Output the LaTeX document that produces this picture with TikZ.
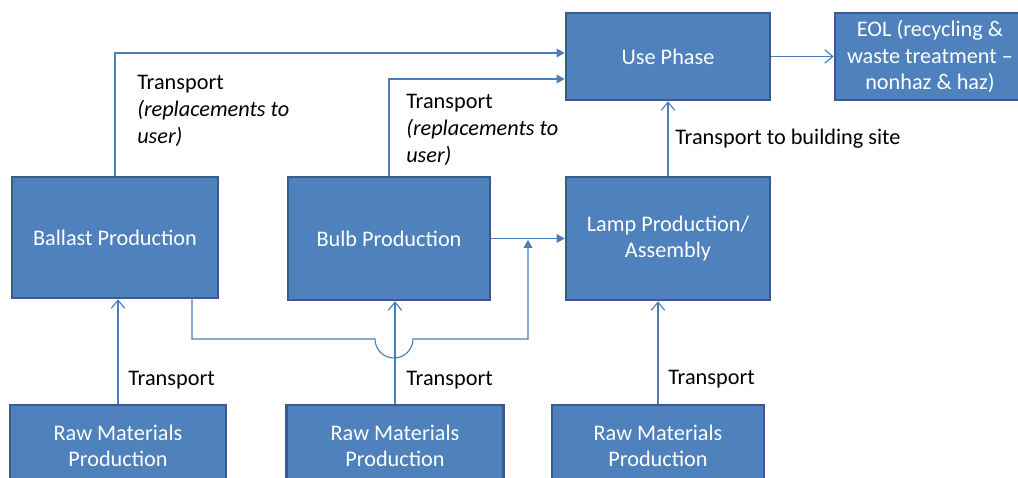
\documentclass[tikz,border=0pt]{standalone}
\usepackage{fontspec}
\setmainfont{Carlito}
\usetikzlibrary{arrows.meta,calc}
\definecolor{boxfill}{HTML}{4F81BD}
\definecolor{boxline}{HTML}{385D8A}
\definecolor{conn}{HTML}{4A7EBB}
\begin{document}
\begin{tikzpicture}[x=0.75pt,y=-0.75pt,
  box/.style={draw=boxline,fill=boxfill,line width=2pt,text=white,align=center,
    font=\fontsize{16.7}{19.9}\selectfont,inner sep=0pt},
  conn/.style={draw=conn,line width=0.85pt},
  openarr/.style={conn,-{Straight Barb[length=6pt,width=10pt]}},
  fillarr/.style={conn,-{Triangle[length=6pt,width=6.5pt]}},
  lbl/.style={font=\fontsize{16.7}{19.9}\selectfont,align=left,inner sep=0pt,anchor=base west}]
\useasboundingbox (0,0) rectangle (1018,478);
\clip (0,0) rectangle (1018,478);
\node[box,minimum width=204*0.75pt,minimum height=87*0.75pt] (use) at (668,56.5) {Use Phase};
\node[box,minimum width=190*0.75pt,minimum height=87*0.75pt] (eol) at (930,56.5) {EOL (recycling \&\\waste treatment --\\nonhaz \& haz)};
\node[box,minimum width=206*0.75pt,minimum height=121*0.75pt] (ballast) at (115,237.5) {Ballast Production};
\node[box,minimum width=202*0.75pt,minimum height=123*0.75pt] (bulb) at (389,238.5) {Bulb Production};
\node[box,minimum width=204*0.75pt,minimum height=123*0.75pt] (lamp) at (668,238.5) {Lamp Production/\\Assembly};
\node[box,minimum width=216*0.75pt,minimum height=82*0.75pt] (raw1) at (118,446) {Raw Materials\\Production};
\node[box,minimum width=217*0.75pt,minimum height=82*0.75pt] (raw2) at (395,446) {Raw Materials\\Production};
\node[box,minimum width=212*0.75pt,minimum height=82*0.75pt] (raw3) at (658,446) {Raw Materials\\Production};

% top transports to use phase
\draw[fillarr] (ballast.north) |- ($(use.west)+(0,-3.5)$);
\draw[fillarr] (bulb.north) |- ($(use.west)+(0,22.5)$);
% use -> EOL
\draw[openarr] (use.east) -- (eol.west);
% lamp -> use
\draw[openarr] (lamp.north) -- (use.south);
% bulb -> lamp
\draw[fillarr] (bulb.east) -- (lamp.west);
\coordinate (j) at ($(bulb.east)!0.5!(lamp.west)$);
% ballast bypass with jump
\coordinate (b0) at ([xshift=77*0.75pt]ballast.south);
\draw[fillarr] (b0) -- (b0 |- 0,339) -- (375,339) arc[start angle=180,end angle=360,radius=14.25pt] -- (j |- 0,339) -- ([yshift=-1pt]j);
% raw -> production
\draw[openarr] (raw1.north) -- (raw1.north |- ballast.south);
\draw[openarr] (raw2.north) -- (raw2.north |- bulb.south);
\draw[openarr] (raw3.north) -- (raw3.north |- lamp.south);

% labels
\node[lbl] (t1) at (137,143) {Transport\\\textit{(replacements to}\\\textit{user)}};
\node[lbl] (t2) at (406,162) {Transport\\\textit{(replacements to}\\\textit{user)}};
\node[lbl] (t3) at (675,145) {Transport to building site};
\node[lbl] (t4) at (128,385) {Transport};
\node[lbl] (t5) at (406,385) {Transport};
\node[lbl] (t6) at (668,384) {Transport};
\end{tikzpicture}
\end{document}
